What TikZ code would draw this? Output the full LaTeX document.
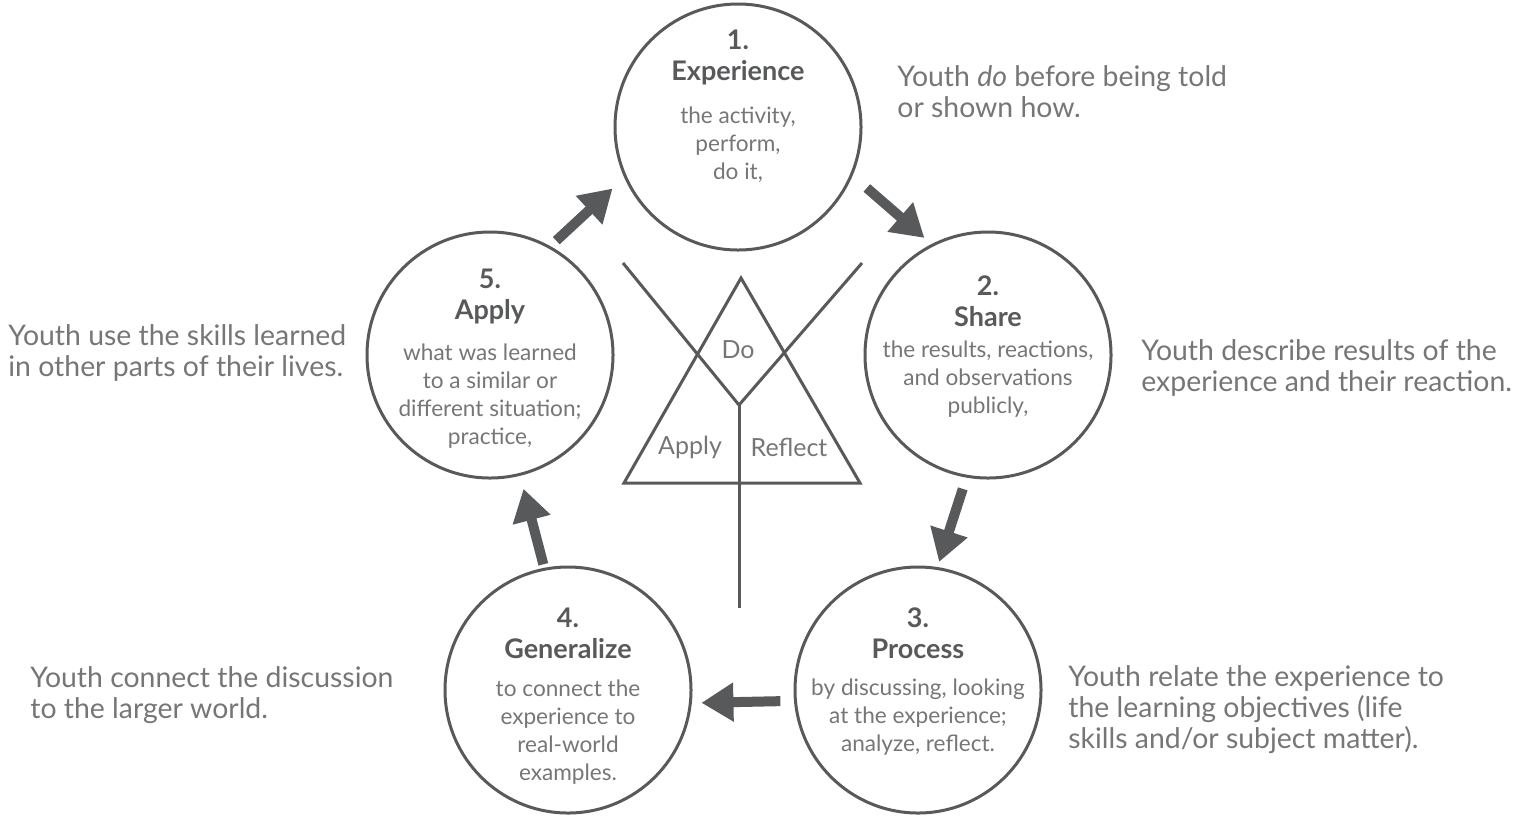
\documentclass[tikz,border=0pt]{standalone}
\usepackage{fontspec}
\setmainfont{Lato}
\usepackage{tikz}
\usetikzlibrary{arrows.meta,positioning}

\definecolor{Ink}{HTML}{58595B}
\definecolor{Soft}{HTML}{767676}

\begin{document}
\begin{tikzpicture}[x=0.5pt, y=-0.5pt]
			\tikzstyle{Stage}	= [circle, draw=Ink, line width=1.5pt, minimum size=123pt, inner sep=0pt]
			\tikzstyle{Title}	= [text=Ink, font=\fontsize{13.5}{15.5}\selectfont\bfseries, align=center]
			\tikzstyle{Body}	= [text=Soft, font=\fontsize{11.3}{14}\selectfont, align=center]
			\tikzstyle{Note}	= [text=Soft, font=\fontsize{14.2}{15.5}\selectfont, align=left, anchor=west, inner sep=0pt]
			\tikzstyle{Cue}		= [text=Soft, font=\fontsize{12.5}{14}\selectfont]
			\tikzstyle{Flow}	= [Ink, line width=5pt, -{Triangle[length=16pt, width=18.5pt]}]
			\tikzstyle{Frame}	= [Ink, line width=1.5pt]

			\useasboundingbox (0, 0) rectangle (1524, 816);

			% the five stages
			\node (exp) at (738, 127) [Stage] {};
			\node (share) at (988, 355) [Stage] {};
			\node (proc) at (918, 690) [Stage] {};
			\node (gen) at (568, 690) [Stage] {};
			\node (apply) at (490, 355) [Stage] {};

			\node (exp-t) at (738, 57) [Title] {1.\\Experience};
			\node (exp-b) at (738, 145) [Body] {the activity,\\perform,\\do it,};
			\node (share-t) at (988, 301) [Title] {2.\\Share};
			\node (share-b) at (988, 379) [Body] {the results, reactions,\\and observations\\publicly,};
			\node (proc-t) at (918, 633) [Title] {3.\\Process};
			\node (proc-b) at (918, 717) [Body] {by discussing, looking\\at the experience;\\analyze, reflect.};
			\node (gen-t) at (568, 633) [Title] {4.\\Generalize};
			\node (gen-b) at (568, 732) [Body] {to connect the\\experience to\\real-world\\examples.};
			\node (apply-t) at (490, 296) [Title] {5.\\Apply};
			\node (apply-b) at (490, 396) [Body] {what was learned\\to a similar or\\different situation;\\practice,};

			% side notes
			\node (exp-n) at (897, 92) [Note] {Youth \emph{do} before being told\\or shown how.};
			\node (share-n) at (1141, 368) [Note] {Youth describe results of the\\experience and their reaction.};
			\node (proc-n) at (1068, 710) [Note] {Youth relate the experience to\\the learning objectives (life\\skills and/or subject matter).};
			\node (gen-n) at (30, 695) [Note] {Youth connect the discussion\\to the larger world.};
			\node (apply-n) at (8, 353) [Note] {Youth use the skills learned\\in other parts of their lives.};

			% cycle arrows
			\draw [Flow, shorten <=4pt, shorten >=8pt] (apply.61) to (exp.204);
			\draw [Flow, shorten <=9.4pt, shorten >=4.7pt] (exp.337.6) to (share.117.9);
			\draw [Flow, shorten <=5.9pt, shorten >=2.7pt] (share.260.6) to (proc.81.5);
			\draw [Flow, shorten <=6.8pt, shorten >=4.8pt] (proc.185) to (gen.354.8);
			\draw [Flow, shorten <=1.8pt, shorten >=6.7pt] (gen.101.4) to (apply.284.4);

			% do / reflect / apply triangle
			\coordinate (top) at (741, 278);
			\coordinate (bl) at (624, 483);
			\coordinate (br) at (860, 483);
			\coordinate (fork) at (739, 405);
			\coordinate (xl) at (623, 263);
			\coordinate (xr) at (862, 263);
			\coordinate (stem) at (739, 608);
			\draw [Frame] (top) -- (bl) -- (br) -- cycle;
			\draw [Frame] (xl) -- (fork) -- (xr);
			\draw [Frame] (fork) -- (stem);

			\node (do) at (738, 350) [Cue] {Do};
			\node (ap) at (690, 447) [Cue] {Apply};
			\node (re) at (789, 447) [Cue] {Reflect};
		\end{tikzpicture}
\end{document}
